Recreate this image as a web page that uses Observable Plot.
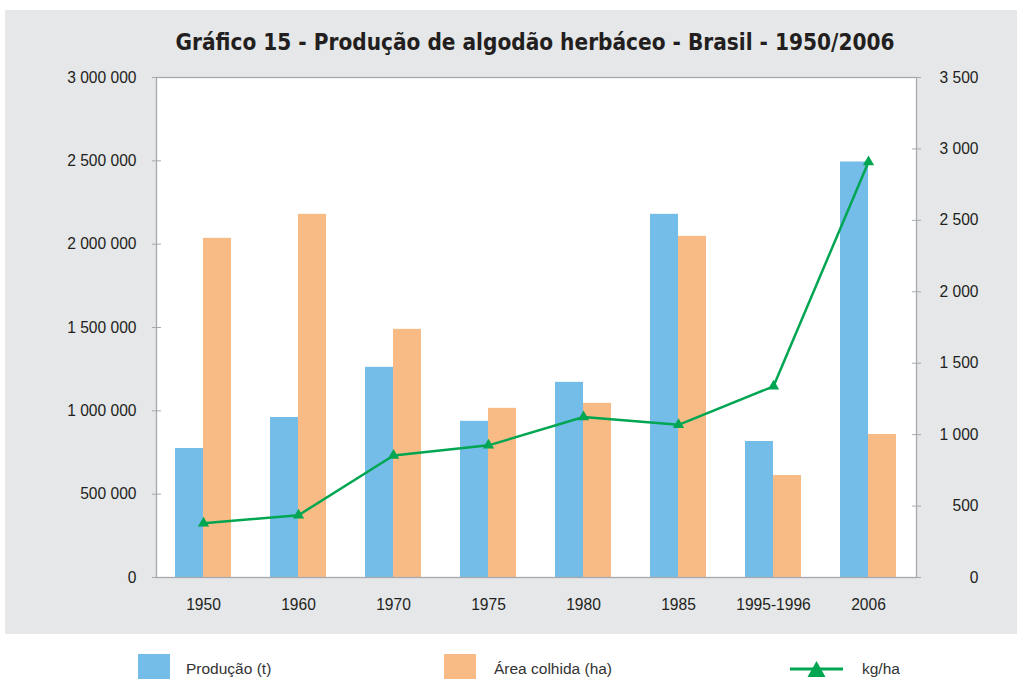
<!DOCTYPE html>
<html>
<head>
<meta charset="utf-8">
<script src="https://cdn.jsdelivr.net/npm/d3@7"></script>
<script src="https://cdn.jsdelivr.net/npm/@observablehq/plot@0.6"></script>
<style>
  html, body { margin:0; padding:0; background:#ffffff; width:1017px; height:679px; overflow:hidden; }
  body { position:relative; font-family:"Liberation Sans", Arial, Helvetica, sans-serif; }
  #panel { position:absolute; left:5px; top:10px; width:1012px; height:624px; background:#e6e7e9; }
  #title { position:absolute; left:155px; width:760px; top:28px; text-align:center;
           font-family:"Liberation Sans Narrow","DejaVu Sans Condensed","Liberation Sans",Arial,sans-serif;
           font-weight:bold; font-size:22.4px; color:#231f20; white-space:nowrap; line-height:28px; }
  #chart { position:absolute; left:8px; top:10px; }
  .leg { position:absolute; font-size:15.5px; color:#333333; line-height:18px; }
  .sw { position:absolute; width:32px; height:26px; }
</style>
</head>
<body>
<div id="panel"></div>
<div id="title">Gráfico 15 - Produção de algodão herbáceo - Brasil - 1950/2006</div>
<div id="chart"></div>
<div class="sw" style="left:138px; top:654px; background:#74bde8;"></div>
<div class="leg" style="left:186px; top:660px;">Produção (t)</div>
<div class="sw" style="left:444px; top:654px; background:#f9bb85;"></div>
<div class="leg" style="left:494px; top:660px;">Área colhida (ha)</div>
<svg style="position:absolute; left:788px; top:658px;" width="58" height="22">
  <line x1="2" y1="11" x2="55" y2="11" stroke="#00a651" stroke-width="3"></line>
  <path d="M28.5,3 L37.5,19 L19.5,19 Z" fill="#00a651"></path>
</svg>
<div class="leg" style="left:862px; top:660px;">kg/ha</div>
<script>
const categories = ["1950", "1960", "1970", "1975", "1980", "1985", "1995-1996", "2006"];
const producao = [774000, 960000, 1261000, 937000, 1171000, 2179000, 816000, 2493000];
const areaColhida = [2035000, 2179000, 1489000, 1015000, 1045000, 2047000, 612000, 858000];
const kgPorHa = [380, 436, 854, 925, 1123, 1069, 1338, 2909];
const leftTicks = [0, 500000, 1000000, 1500000, 2000000, 2500000, 3000000];
const rightTicks = [0, 500, 1000, 1500, 2000, 2500, 3000, 3500];

const k = 3000000 / 3500;
const fmt = v => d3.format(",")(Math.round(v)).replace(/,/g, " ");
const rows = categories.map((c, i) => ({cat: c, prod: producao[i], area: areaColhida[i], kg: kgPorHa[i] * k}));

const chart = Plot.plot({
  width: 1009,
  height: 625,
  marginLeft: 148,
  marginRight: 101,
  marginTop: 67,
  marginBottom: 58,
  style: {background: "transparent", fontFamily: "'Liberation Sans', Arial, Helvetica, sans-serif", fontSize: "15.6px", color: "#231f20"},
  x: {domain: categories, paddingInner: 0.41, paddingOuter: 0.205, label: null},
  y: {domain: [0, 3000000], label: null},
  marks: [
    Plot.frame({fill: "white", stroke: null}),
    Plot.barY(rows, {x: "cat", y: "prod", fill: "#74bde8", insetRight: 28}),
    Plot.barY(rows, {x: "cat", y: "area", fill: "#f9bb85", insetLeft: 28}),
    Plot.line(rows, {x: "cat", y: "kg", stroke: "#00a651", strokeWidth: 2.5}),
    Plot.dot(rows, {x: "cat", y: "kg", symbol: "triangle", r: 4.2, fill: "#00a651", stroke: null}),
    Plot.frame({stroke: "#a7a9ac", strokeWidth: 1.3}),
    Plot.axisY({anchor: "left", ticks: leftTicks, tickSize: 9, dx: 5, stroke: "#a7a9ac", tickFormat: () => ""}),
    Plot.axisY({anchor: "left", ticks: leftTicks, tickSize: 0, tickPadding: 20, tickFormat: fmt, fontSize: 15.6}),
    Plot.axisY({anchor: "right", ticks: rightTicks.map(v => v * k), tickSize: 9, dx: -5, stroke: "#a7a9ac", tickFormat: () => ""}),
    Plot.axisY({anchor: "right", ticks: rightTicks.map(v => v * k), tickSize: 0, tickPadding: 62, textAnchor: "end", tickFormat: d => fmt(d / k), fontSize: 15.6}),
    Plot.axisX({anchor: "bottom", tickSize: 0, tickPadding: 21, fontSize: 15.6})
  ]
});
document.getElementById("chart").appendChild(chart);
</script>
</body>
</html>
